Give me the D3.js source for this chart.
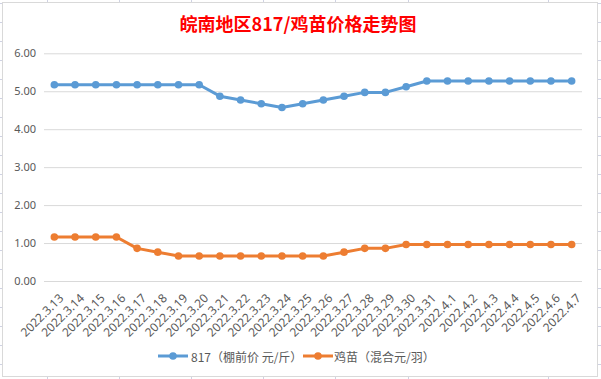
<!DOCTYPE html>
<html>
<head>
<meta charset="utf-8">
<script src="https://cdn.jsdelivr.net/npm/d3@7"></script>
<style>
  html, body { margin: 0; padding: 0; background: #fff; }
  svg { display: block; }
  text { font-family: "Noto Sans CJK SC", "Noto Sans", sans-serif; }
</style>
</head>
<body>
<div id="chart"></div>
<script>
const title = "皖南地区817/鸡苗价格走势图";
const dates = ["2022.3.13","2022.3.14","2022.3.15","2022.3.16","2022.3.17","2022.3.18","2022.3.19","2022.3.20","2022.3.21","2022.3.22","2022.3.23","2022.3.24","2022.3.25","2022.3.26","2022.3.27","2022.3.28","2022.3.29","2022.3.30","2022.3.31","2022.4.1","2022.4.2","2022.4.3","2022.4.4","2022.4.5","2022.4.6","2022.4.7"];
const seriesNames = ["817（棚前价 元/斤）", "鸡苗（混合元/羽）"];
const price817 = [5.17,5.17,5.17,5.17,5.17,5.17,5.17,5.17,4.87,4.77,4.67,4.57,4.67,4.77,4.87,4.97,4.97,5.12,5.27,5.27,5.27,5.27,5.27,5.27,5.27,5.27];
const chickPrice = [1.16,1.16,1.16,1.16,0.86,0.76,0.66,0.66,0.66,0.66,0.66,0.66,0.66,0.66,0.76,0.86,0.86,0.96,0.96,0.96,0.96,0.96,0.96,0.96,0.96,0.96];
const yTicks = [0,1,2,3,4,5,6];
const colors = ["#5B9BD5", "#ED7D31"];

(function () {
const W = 601, H = 379;
const svg = d3.select("#chart").append("svg").attr("width", W).attr("height", H);

// spreadsheet cell grid behind chart
const cellRows = d3.range(3, 379, 19);
const cellCols = [47, 119, 191, 263, 335, 408, 548];
const bg = svg.append("g").attr("stroke", "#cfd2e3").attr("stroke-width", 1);
cellRows.forEach(yy => {
  bg.append("line").attr("x1", 0).attr("x2", 2).attr("y1", yy + 0.5).attr("y2", yy + 0.5);
  bg.append("line").attr("x1", 598).attr("x2", 601).attr("y1", yy + 0.5).attr("y2", yy + 0.5);
});
cellCols.forEach(xx => {
  bg.append("line").attr("x1", xx + 0.5).attr("x2", xx + 0.5).attr("y1", 0).attr("y2", 2);
  bg.append("line").attr("x1", xx + 0.5).attr("x2", xx + 0.5).attr("y1", 377).attr("y2", 379);
});
svg.append("rect").attr("x", 2.5).attr("y", 2.5).attr("width", 595).attr("height", 374)
  .attr("fill", "#fff").attr("stroke", "#d9d9d9");

const mLeft = 44, mRight = 582, mTop = 53.3, mBottom = 281;
const x = d3.scaleBand().domain(dates).range([mLeft, mRight]);
const y = d3.scaleLinear().domain([0, 6]).range([mBottom, mTop]);
const cx = d => x(d) + x.bandwidth() / 2;

// title
svg.append("text").attr("x", 298).attr("y", 23).attr("text-anchor", "middle")
  .attr("dominant-baseline", "central")
  .attr("font-size", 18).attr("font-weight", "bold").attr("fill", "#FF0000").text(title);

// y axis + gridlines
const yAxis = d3.axisLeft(y).tickValues(yTicks).tickFormat(d3.format(".2f"))
  .tickSize(-(mRight - mLeft)).tickPadding(8);
const gy = svg.append("g").attr("transform", `translate(${mLeft},0)`).call(yAxis);
gy.select(".domain").remove();
gy.selectAll(".tick line").attr("stroke", "#d9d9d9");
gy.selectAll(".tick text").attr("fill", "#595959").attr("font-size", 11)
  .style("font-family", "'Noto Sans', sans-serif");

// x axis labels
const xAxis = d3.axisBottom(x).tickSize(0).tickPadding(0);
const gx = svg.append("g").attr("transform", `translate(0,${mBottom})`).call(xAxis);
gx.select(".domain").remove();
gx.selectAll(".tick text")
  .attr("fill", "#595959").attr("font-size", 12)
  .style("font-family", "'Noto Sans', sans-serif")
  .attr("text-anchor", "end")
  .attr("transform", "translate(7,15) rotate(-45)")
  .attr("x", 0).attr("y", 0).attr("dy", "0.35em");

// series
const allSeries = [price817, chickPrice];
allSeries.forEach((vals, i) => {
  const data = dates.map((d, j) => ({ d, v: vals[j] }));
  const line = d3.line().x(p => cx(p.d)).y(p => y(p.v));
  svg.append("path").datum(data).attr("fill", "none").attr("stroke", colors[i])
    .attr("stroke-width", 3).attr("stroke-linejoin", "round").attr("d", line);
  svg.append("g").selectAll("circle").data(data).join("circle")
    .attr("cx", p => cx(p.d)).attr("cy", p => y(p.v)).attr("r", 3.8)
    .attr("fill", colors[i]);
});

// legend
const legendItems = [{ x0: 158, tx: 191 }, { x0: 303, tx: 334 }];
const ly = 356;
seriesNames.forEach((name, i) => {
  const g = svg.append("g");
  const it = legendItems[i];
  g.append("line").attr("x1", it.x0).attr("x2", it.x0 + 30).attr("y1", ly).attr("y2", ly)
    .attr("stroke", colors[i]).attr("stroke-width", 3);
  g.append("circle").attr("cx", it.x0 + 15).attr("cy", ly).attr("r", 3.8).attr("fill", colors[i]);
  g.append("text").attr("x", it.tx).attr("y", ly).attr("dominant-baseline", "central")
    .attr("font-size", 12).attr("fill", "#595959").text(name);
});
})();
</script>
</body>
</html>
